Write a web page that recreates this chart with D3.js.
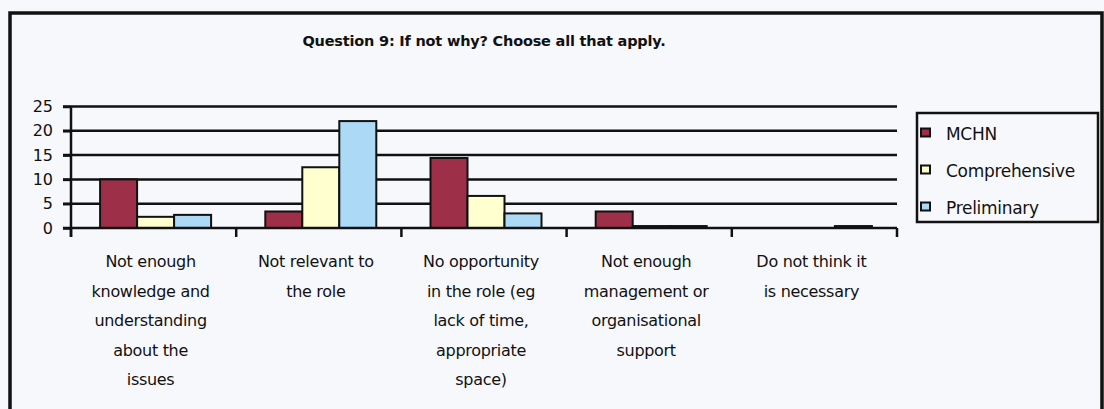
<!DOCTYPE html>
<html>
<head>
<meta charset="utf-8">
<script src="https://cdn.jsdelivr.net/npm/d3@7"></script>
<style>
  html, body { margin: 0; padding: 0; background: #f7f8fb; }
  svg { display: block; }
  text { font-family: "DejaVu Sans", Verdana, sans-serif; fill: #111; }
</style>
</head>
<body>
<svg id="chart" width="1104" height="409"></svg>
<script>
// Response categories, one array of wrapped label lines per category
const categories = [
  "Not enough knowledge and understanding about the issues",
  "Not relevant to the role",
  "No opportunity in the role (eg lack of time, appropriate space)",
  "Not enough management or organisational support",
  "Do not think it is necessary"
];
const categoryLines = [
  ["Not enough", "knowledge and", "understanding", "about the", "issues"],
  ["Not relevant to", "the role"],
  ["No opportunity", "in the role (eg", "lack of time,", "appropriate", "space)"],
  ["Not enough", "management or", "organisational", "support"],
  ["Do not think it", "is necessary"]
];

// Series
const seriesNames = ["MCHN", "Comprehensive", "Preliminary"];
const mchn          = [10, 3.4, 14.4, 3.4, 0];
const comprehensive = [2.3, 12.5, 6.6, 0.4, 0];
const preliminary   = [2.7, 22, 3.0, 0.4, 0.4];
const seriesValues = [mchn, comprehensive, preliminary];
const seriesColors = ["#9e2f49", "#ffffcf", "#acd9f6"];

// Axis
const yTicks = [0, 5, 10, 15, 20, 25];
const yMax = 25;
const title = "Question 9: If not why? Choose all that apply.";

const svg = d3.select("#chart");

// Outer frame
svg.append("rect")
  .attr("x", 10).attr("y", 13)
  .attr("width", 1092).attr("height", 430)
  .attr("fill", "#f7f8fb")
  .attr("stroke", "#111").attr("stroke-width", 3.5);

// Title
svg.append("text")
  .attr("x", 484).attr("y", 46)
  .attr("text-anchor", "middle")
  .attr("font-size", 14.5).attr("font-weight", "bold")
  .attr("letter-spacing", -0.2)
  .text(title);

const plot = { left: 71, right: 897, top: 106.5, bottom: 228 };

const x0 = d3.scaleBand()
  .domain(d3.range(categories.length))
  .range([plot.left, plot.right])
  .paddingInner(0).paddingOuter(0);

const groupWidth = 111;
const x1 = d3.scaleBand()
  .domain(d3.range(seriesNames.length))
  .range([0, groupWidth])
  .padding(0);

const y = d3.scaleLinear().domain([0, yMax]).range([plot.bottom, plot.top]);

// Horizontal gridlines (with the y-axis tick stubs on the left)
svg.append("g")
  .selectAll("line")
  .data(yTicks.filter(t => t > 0))
  .join("line")
  .attr("x1", plot.left - 8).attr("x2", plot.right)
  .attr("y1", d => y(d)).attr("y2", d => y(d))
  .attr("stroke", "#111").attr("stroke-width", 2.5);

// Y-axis tick labels
const yAxis = d3.axisLeft(y).tickValues(yTicks).tickSize(8).tickPadding(10);
const gy = svg.append("g")
  .attr("transform", `translate(${plot.left},0)`)
  .call(yAxis);
gy.select(".domain").remove();
gy.selectAll(".tick line").attr("stroke", "#111").attr("stroke-width", 2.5);
gy.selectAll(".tick text")
  .attr("font-family", "DejaVu Sans, Verdana, sans-serif")
  .attr("font-size", 16).attr("fill", "#222");

// Bars
const groups = svg.append("g")
  .selectAll("g")
  .data(categories.map((c, i) => i))
  .join("g")
  .attr("transform", i => `translate(${x0(i) + (x0.bandwidth() - groupWidth) / 2 + 2},0)`);

groups.selectAll("rect")
  .data(i => seriesValues.map((vals, s) => ({ s, v: vals[i] })))
  .join("rect")
  .filter(d => d.v > 0)
  .attr("x", d => x1(d.s))
  .attr("y", d => y(d.v))
  .attr("width", x1.bandwidth())
  .attr("height", d => y(0) - y(d.v))
  .attr("fill", d => seriesColors[d.s])
  .attr("stroke", "#111").attr("stroke-width", 2);

// X axis line and category ticks
const boundaries = d3.range(categories.length + 1).map(i =>
  i < categories.length ? x0(i) : x0(categories.length - 1) + x0.bandwidth());
svg.append("line")
  .attr("x1", plot.left - 8).attr("x2", plot.right)
  .attr("y1", y(0)).attr("y2", y(0))
  .attr("stroke", "#111").attr("stroke-width", 2.5);
svg.append("line")
  .attr("x1", plot.left).attr("x2", plot.left)
  .attr("y1", plot.top).attr("y2", plot.bottom + 9)
  .attr("stroke", "#111").attr("stroke-width", 2.5);
svg.append("g")
  .selectAll("line")
  .data(boundaries)
  .join("line")
  .attr("x1", d => d).attr("x2", d => d)
  .attr("y1", y(0)).attr("y2", y(0) + 9)
  .attr("stroke", "#111").attr("stroke-width", 2.5);

// Category labels
const lab = svg.append("g")
  .selectAll("text")
  .data(categoryLines)
  .join("text")
  .attr("text-anchor", "middle")
  .attr("font-size", 16)
  .attr("letter-spacing", -0.3)
  .attr("fill", "#1a1a1a");
lab.each(function (lines, i) {
  const cx = x0(i) + x0.bandwidth() / 2 - 3;
  d3.select(this).selectAll("tspan")
    .data(lines)
    .join("tspan")
    .attr("x", cx)
    .attr("y", (d, k) => 267 + k * 29.5)
    .text(d => d);
});

// Legend
const legend = svg.append("g");
legend.append("rect")
  .attr("x", 917).attr("y", 113)
  .attr("width", 181).attr("height", 109)
  .attr("fill", "#f7f8fb")
  .attr("stroke", "#111").attr("stroke-width", 2.5);
const rowsY = [133, 170, 207];
const items = legend.selectAll("g.item")
  .data(seriesNames)
  .join("g")
  .attr("class", "item")
  .attr("transform", (d, i) => `translate(0,${rowsY[i]})`);
items.append("rect")
  .attr("x", 921).attr("y", -4.5)
  .attr("width", 9).attr("height", 8)
  .attr("fill", (d, i) => seriesColors[i])
  .attr("stroke", "#111").attr("stroke-width", 2);
items.append("text")
  .attr("x", 946).attr("y", 6.5)
  .attr("font-size", 17)
  .attr("letter-spacing", -0.3)
  .attr("fill", "#222")
  .text(d => d);
</script>
</body>
</html>
